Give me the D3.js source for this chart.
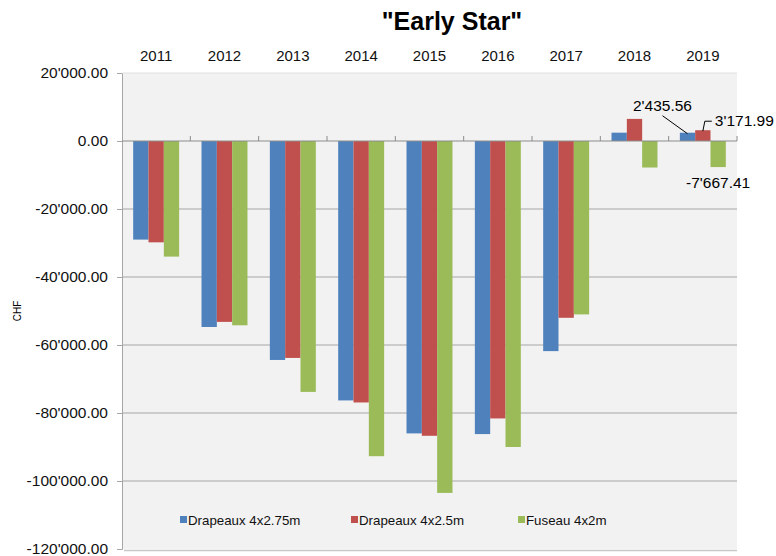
<!DOCTYPE html>
<html>
<head>
<meta charset="utf-8">
<script src="https://cdn.jsdelivr.net/npm/d3@7"></script>
<style>
  body { margin: 0; background: #fff; }
  svg text { font-family: "Liberation Sans", Arial, sans-serif; }
</style>
</head>
<body>
<svg id="chart"></svg>
<script>
var years = ["2011","2012","2013","2014","2015","2016","2017","2018","2019"];
var seriesNames = ["Drapeaux 4x2.75m", "Drapeaux 4x2.5m", "Fuseau 4x2m"];
var seriesColors = ["#4f81bd", "#c0504d", "#9bbb59"];
var drapeaux275 = [-29000, -54700, -64400, -76300, -86000, -86200, -61800, 2450, 2435.56];
var drapeaux25  = [-29800, -53200, -63800, -76900, -86700, -81600, -52000, 6500, 3171.99];
var fuseau      = [-34000, -54200, -73800, -92700, -103500, -90000, -51000, -7800, -7667.41];
var yTicks = [20000, 0, -20000, -40000, -60000, -80000, -100000, -120000];

function createChart(width, height) {
    var svg = d3.select('#chart')
        .attr('width', width)
        .attr('height', height);

    var margin = {left: 122, right: 39, top: 73, bottom: 6};
    var x0 = d3.scaleBand()
                .domain(years)
                .range([margin.left, width - margin.right]);
    var x1 = d3.scaleBand()
                .domain(d3.range(3))
                .range([0, x0.bandwidth()])
                .paddingInner(0)
                .paddingOuter(0.73);
    var y = d3.scaleLinear()
                .domain([-120000, 20000])
                .range([height - margin.bottom - 1, margin.top]);

    var fmt = function(v) {
        return d3.format(",.2f")(v).replace(/,/g, "'").replace("\u2212", "-");
    };

    // plot background
    svg.append("rect")
        .attr("x", margin.left)
        .attr("y", y(20000))
        .attr("width", x0.range()[1] - margin.left)
        .attr("height", y(-120000) - y(20000))
        .attr("fill", "#f2f2f2");
    svg.append("line")
        .attr("x1", margin.left + 2).attr("x2", x0.range()[1])
        .attr("y1", y(-120000) + 1.5).attr("y2", y(-120000) + 1.5)
        .attr("stroke", "#c8c8c8").attr("stroke-width", 1.5);

    // gridlines + y axis
    var yAxis = d3.axisLeft(y)
                    .tickValues(yTicks)
                    .tickSize(5)
                    .tickPadding(9)
                    .tickFormat(fmt);
    svg.append("g")
        .attr("transform", "translate(" + margin.left + ",0)")
        .call(yAxis)
        .call(g => g.select(".domain").attr("stroke", "#a6a6a6"))
        .call(g => g.selectAll(".tick line").attr("stroke", "#a6a6a6"))
        .call(g => g.selectAll(".tick text").attr("font-size", "15.5px").attr("fill", "#111")
                    .attr("font-family", "Liberation Sans, Arial, sans-serif"));

    svg.append("g")
        .selectAll("line")
        .data(yTicks.filter(d => d !== 0 && d !== -120000))
        .enter()
        .append("line")
            .attr("x1", margin.left).attr("x2", x0.range()[1])
            .attr("y1", d => y(d)).attr("y2", d => y(d))
            .attr("stroke", d => d === 20000 ? "#e0e0e0" : "#a6a6a6")
            .attr("stroke-width", 1);

    // bars
    var series = [drapeaux275, drapeaux25, fuseau];
    series.forEach(function(vals, i) {
        svg.append("g")
            .selectAll("rect")
            .data(vals)
            .enter()
            .append("rect")
                .attr("x", (d, j) => x0(years[j]) + x1(i))
                .attr("y", d => y(Math.max(0, d)))
                .attr("width", x1.bandwidth())
                .attr("height", d => Math.abs(y(d) - y(0)))
                .attr("fill", seriesColors[i]);
    });

    // zero line with category ticks
    svg.append("line")
        .attr("x1", margin.left).attr("x2", x0.range()[1])
        .attr("y1", y(0)).attr("y2", y(0))
        .attr("stroke", "#8c8c8c").attr("stroke-width", 1.2);
    svg.append("g")
        .selectAll("line")
        .data(years.slice(1).concat(["end"]))
        .enter()
        .append("line")
            .attr("x1", d => d === "end" ? x0.range()[1] : x0(d))
            .attr("x2", d => d === "end" ? x0.range()[1] : x0(d))
            .attr("y1", y(0) - 5).attr("y2", y(0))
            .attr("stroke", "#8c8c8c");

    // year labels above plot
    svg.append("g")
        .selectAll("text")
        .data(years)
        .enter()
        .append("text")
            .attr("x", d => x0(d) + x0.bandwidth() / 2)
            .attr("y", 61)
            .attr("font-size", "15px")
            .attr("fill", "#111")
            .style("text-anchor", "middle")
            .text(d => d);

    // title
    svg.append("text")
        .attr("x", 452)
        .attr("y", 30)
        .attr("font-size", "25px")
        .attr("font-weight", "bold")
        .style("text-anchor", "middle")
        .text('"Early Star"');

    // y axis title
    svg.append("text")
        .attr("transform", "translate(21," + y(-50000) + ") rotate(-90)")
        .attr("font-size", "10px")
        .style("text-anchor", "middle")
        .text("CHF");

    // data labels for 2019
    var last = years[8];
    var bx = i => x0(last) + x1(i) + x1.bandwidth() / 2;
    svg.append("line")
        .attr("x1", bx(0)).attr("y1", y(drapeaux275[8]) + 1)
        .attr("x2", bx(0) - 25).attr("y2", y(drapeaux275[8]) - 17)
        .attr("stroke", "#000");
    svg.append("text")
        .attr("x", bx(0) - 25).attr("y", y(drapeaux275[8]) - 22)
        .attr("font-size", "15.5px").style("text-anchor", "middle")
        .text(fmt(drapeaux275[8]));

    svg.append("polyline")
        .attr("points", [[bx(1), y(drapeaux25[8]) + 1], [bx(1) + 2, y(drapeaux25[8]) - 9], [bx(1) + 9, y(drapeaux25[8]) - 9]]
                .map(p => p.join(",")).join(" "))
        .attr("fill", "none").attr("stroke", "#000");
    svg.append("text")
        .attr("x", bx(1) + 12).attr("y", y(drapeaux25[8]) - 4)
        .attr("font-size", "15.5px")
        .text(fmt(drapeaux25[8]));

    svg.append("text")
        .attr("x", bx(2)).attr("y", y(fuseau[8]) + 21)
        .attr("font-size", "15.5px").style("text-anchor", "middle")
        .text(fmt(fuseau[8]));

    // legend
    var legX = [180, 351, 518];
    var leg = svg.append("g")
        .selectAll("g")
        .data(seriesNames)
        .enter()
        .append("g")
            .attr("transform", (d, i) => "translate(" + legX[i] + "," + 520 + ")");
    leg.append("rect")
        .attr("x", 0).attr("y", -4)
        .attr("width", 7).attr("height", 7)
        .attr("fill", (d, i) => seriesColors[i]);
    leg.append("text")
        .attr("x", 8).attr("y", 5)
        .attr("font-size", "13.3px")
        .attr("fill", "#111")
        .text(d => d);
}

createChart(776, 556);
</script>
</body>
</html>
